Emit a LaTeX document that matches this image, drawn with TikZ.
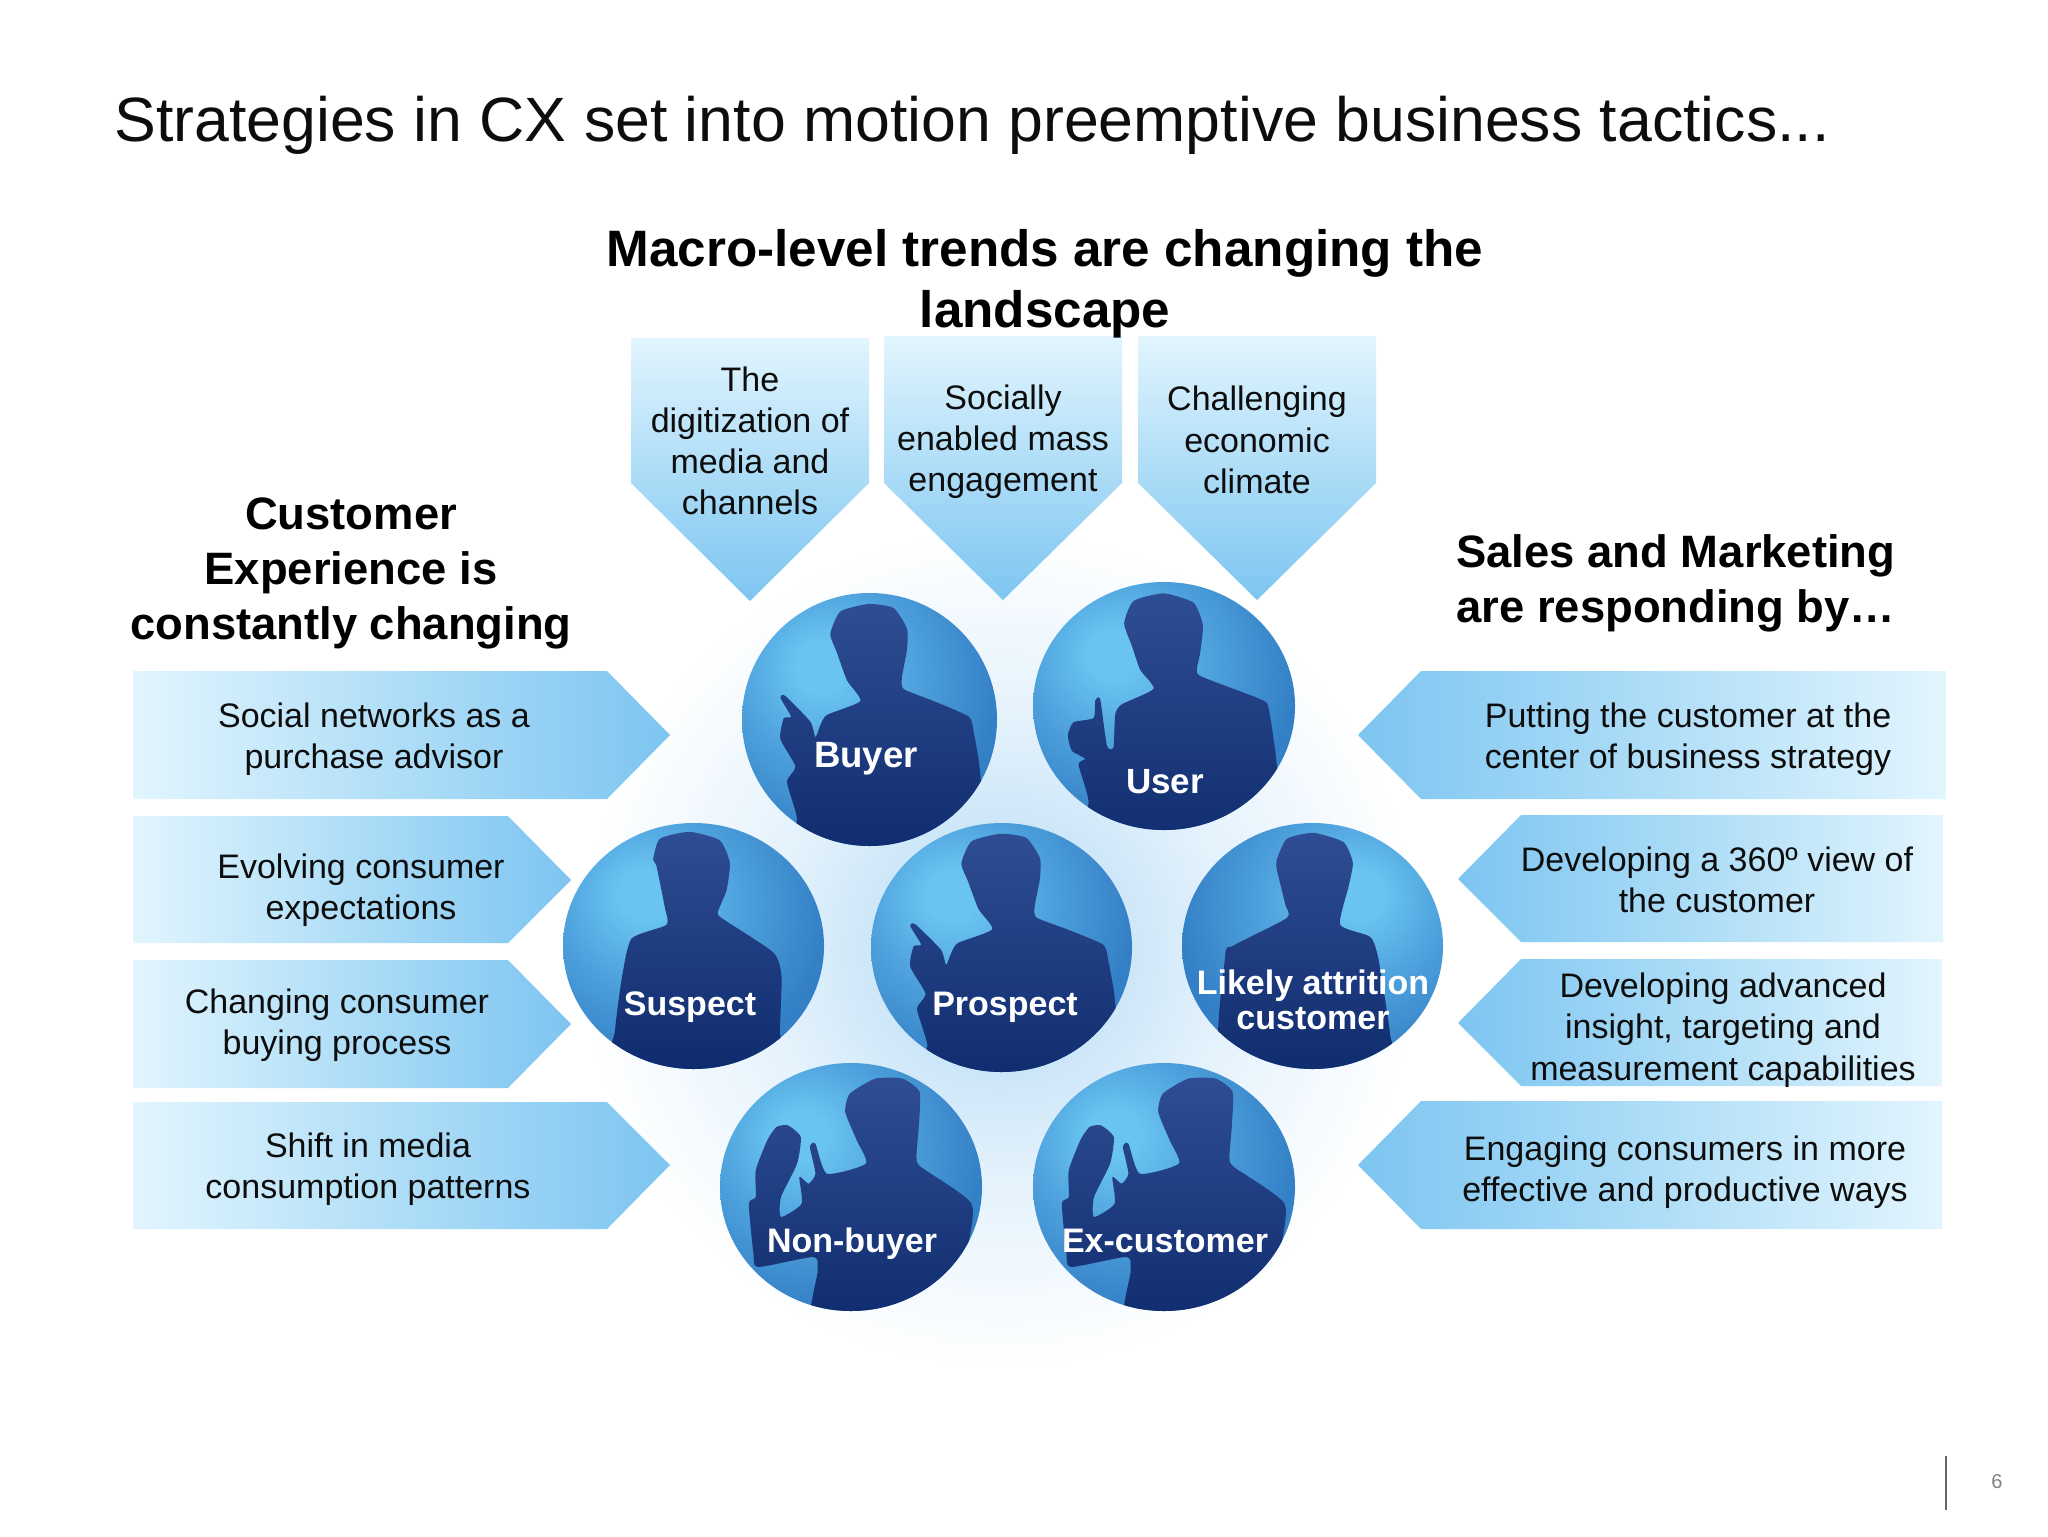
\documentclass[tikz,border=0pt]{standalone}
\usepackage{fontspec}
\setmainfont{Liberation Sans}
\definecolor{arrowblue}{HTML}{7DC5F1}
\definecolor{arrowpale}{HTML}{E2F5FE}
\definecolor{arrowmid}{HTML}{AEDDF7}
\definecolor{spot}{HTML}{69C4F1}
\definecolor{midball}{HTML}{4FA2DD}
\definecolor{edgeball}{HTML}{3480C6}
\definecolor{figtop}{HTML}{2F4D94}
\definecolor{figbot}{HTML}{0D2A6B}
\definecolor{glowa}{HTML}{C8E4F8}
\definecolor{glowb}{HTML}{E4F2FC}
\pgfdeclareradialshading{ballL}{\pgfpoint{-10bp}{11bp}}{color(0bp)=(spot); color(5bp)=(spot); color(17bp)=(midball); color(32bp)=(edgeball); color(100bp)=(edgeball)}
\pgfdeclareradialshading{ballR}{\pgfpoint{9bp}{11bp}}{color(0bp)=(spot); color(5bp)=(spot); color(17bp)=(midball); color(32bp)=(edgeball); color(100bp)=(edgeball)}
\pgfdeclareradialshading{glowshade}{\pgfpointorigin}{color(0bp)=(glowa); color(6bp)=(glowa); color(13bp)=(glowb); color(24bp)=(white); color(100bp)=(white)}
\tikzset{
  x=0.5pt,y=-0.5pt,
  bodytext/.style={align=center,inner sep=0pt,font=\fontsize{17}{20.6}\selectfont,text=black!95},
  headtext/.style={align=center,inner sep=0pt,font=\fontsize{22.7}{27.5}\selectfont\bfseries},
  balltext/.style={align=center,inner sep=0pt,font=\fontsize{17}{17.7}\selectfont\bfseries,text=white},
  rarrow/.style={left color=arrowpale,right color=arrowblue,middle color=arrowmid},
  larrow/.style={left color=arrowblue,right color=arrowpale,middle color=arrowmid},
  darrow/.style={top color=arrowpale,bottom color=arrowblue,middle color=arrowmid},
  fig/.style={top color=figtop,bottom color=figbot,draw=none},
}
\newcommand{\pointerfig}{plot[smooth cycle,tension=.35] coordinates {(870,215)(900,150)(985,128)(1060,140)(1100,200)(1100,260)(1085,340)(1090,375)(1180,410)(1285,455)(1300,500)(1320,625)(1320,880)(770,880)(770,750)(740,645)(765,600)(720,520)(730,460)(752,455)(720,400)(735,395)(810,470)(825,515)(840,480)(860,450)(960,410)(920,350)(890,270)}}
\newcommand{\thumbfig}{plot[smooth cycle,tension=.35] coordinates {(372,185)(400,120)(490,98)(580,125)(608,190)(600,270)(590,320)(605,340)(780,405)(805,430)(830,600)(840,880)(270,880)(265,700)(235,595)(255,578)(215,555)(203,510)(220,472)(280,460)(285,410)(300,405)(320,540)(340,545)(345,450)(365,420)(460,375)(420,320)(395,250)}}
\newcommand{\suspectfig}{plot[smooth cycle,tension=.35] coordinates {(340,870)(360,810)(450,790)(540,815)(570,880)(560,960)(535,1020)(545,1040)(700,1140)(725,1210)(720,1370)(720,1500)(220,1500)(225,1370)(245,1220)(275,1100)(380,1060)(375,1010)(350,890)}}
\newcommand{\likelyfig}{plot[smooth cycle,tension=.35] coordinates {(830,870)(860,810)(940,793)(1030,820)(1058,880)(1045,950)(1020,1060)(1110,1095)(1135,1160)(1170,1380)(1170,1500)(675,1500)(675,1150)(700,1120)(860,1040)(855,1000)(830,900)}}
\newcommand{\raisedfig}{plot[smooth cycle,tension=.35] coordinates {(535,215)(545,160)(600,115)(660,115)(697,155)(695,260)(690,350)(700,380)(810,490)(800,640)(780,880)(470,880)(475,690)(465,650)(345,680)(335,640)(325,490)(340,470)(340,390)(365,300)(385,260)(410,255)(438,290)(430,370)(395,470)(395,530)(440,490)(435,410)(455,430)(470,400)(458,320)(470,310)(495,400)(580,370)(560,300)}}
\newcommand{\person}[9]{%
  \shade[shading=#5] (#1,#2) ellipse [x radius=#3,y radius=#4];
  \begin{scope}
    \clip (#1,#2) ellipse [x radius=#3,y radius=#4];
    \begin{scope}[shift={(#1,#2)},xscale=#6,yscale=#7,shift={(-#8,-#9)}]
      \shade[fig] \thefig;
    \end{scope}
  \end{scope}}
\begin{document}
\begin{tikzpicture}
\useasboundingbox[fill=white] (0,0) rectangle (2048,1536);
\shade[shading=glowshade] (1000,950) ellipse [x radius=440,y radius=440];
\shade[darrow] (631,338) -- (869,338) -- (869,483) -- (750,601) -- (631,483) -- cycle;
\shade[darrow] (884,336) -- (1122,336) -- (1122,483) -- (1003,600) -- (884,483) -- cycle;
\shade[darrow] (1138,336) -- (1376,336) -- (1376,483) -- (1257,600) -- (1138,483) -- cycle;
\shade[rarrow] (133,671) -- (607,671) -- (670,735) -- (607,799) -- (133,799) -- cycle;
\shade[rarrow] (133,816) -- (508,816) -- (571,880) -- (508,943) -- (133,943) -- cycle;
\shade[rarrow] (133,960) -- (508,960) -- (571,1024) -- (508,1088) -- (133,1088) -- cycle;
\shade[rarrow] (133,1102) -- (607,1102) -- (670,1165) -- (607,1229) -- (133,1229) -- cycle;
\shade[larrow] (1946,671) -- (1421,671) -- (1358,735) -- (1421,799) -- (1946,799) -- cycle;
\shade[larrow] (1943,815) -- (1521,815) -- (1458,879) -- (1521,942) -- (1943,942) -- cycle;
\shade[larrow] (1942,959) -- (1521,959) -- (1458,1023) -- (1521,1086) -- (1942,1086) -- cycle;
\shade[larrow] (1942,1101) -- (1421,1101) -- (1358,1165) -- (1421,1229) -- (1942,1229) -- cycle;
\let\thefig\pointerfig
\person{869.5}{719.5}{127.5}{126.5}{ballL}{0.3333}{0.3444}{987.5}{463.5}
\person{1001.5}{947.5}{130.5}{124.5}{ballL}{0.3413}{0.339}{987.5}{463.5}
\let\thefig\thumbfig
\person{1164}{706}{131}{124}{ballL}{0.3333}{0.3444}{491.5}{425}
\let\thefig\suspectfig
\person{693.5}{946}{130.5}{123}{ballL}{0.3333}{0.3444}{461}{1121.5}
\let\thefig\likelyfig
\person{1312.5}{946}{130.5}{123}{ballR}{0.3333}{0.3444}{937}{1121.5}
\let\thefig\raisedfig
\person{851}{1187}{131}{124}{ballL}{0.4591}{0.3333}{547.5}{440}
\person{1164}{1187}{131}{124}{ballL}{0.4591}{0.3333}{547.5}{440}
\coordinate (ruletop) at (1946,1456);
\coordinate (rulebot) at (1946,1510);
\draw[black!60,line width=0.6pt] (ruletop) -- (rulebot);
\node[inner sep=0pt,text=black!50,font=\fontsize{10}{12}\selectfont] (pagenum) at (1997,1482) {6};
\node[anchor=base west,inner sep=0pt,font=\fontsize{31.3}{36}\selectfont,text=black!95] (title) at (114,141) {Strategies in CX set into motion preemptive business tactics...};
\node[align=center,inner sep=0pt,font=\fontsize{25.6}{30.5}\selectfont\bfseries] (macro) at (1045,284) {Macro-level trends are changing the\\landscape};
\node[headtext] (cxhead) at (351,573) {Customer\\Experience is\\constantly changing};
\node[headtext,align=left,anchor=west] (smhead) at (1456,583) {Sales and Marketing\\are responding by…};
\node[bodytext] (t1) at (750,441) {The\\digitization of\\media and\\channels};
\node[bodytext] (t2) at (1003,442) {Socially\\enabled mass\\engagement};
\node[bodytext] (t3) at (1257,440) {Challenging\\economic\\climate};
\node[bodytext] (l1) at (374,739) {Social networks as a\\purchase advisor};
\node[bodytext] (l2) at (361,890) {Evolving consumer\\expectations};
\node[bodytext] (l3) at (337,1025) {Changing consumer\\buying process};
\node[bodytext] (l4) at (368,1169) {Shift in media\\consumption patterns};
\node[bodytext] (r1) at (1688,739) {Putting the customer at the\\center of business strategy};
\node[bodytext] (r2) at (1717,880) {Developing a 360º view of\\the customer};
\node[bodytext] (r3) at (1723,1030) {Developing advanced\\insight, targeting and\\measurement capabilities};
\node[bodytext] (r4) at (1685,1172) {Engaging consumers in more\\effective and productive ways};
\node[balltext,font=\fontsize{18.3}{20}\selectfont\bfseries] (buyer) at (866,759) {Buyer};
\node[balltext,font=\fontsize{17.5}{20}\selectfont\bfseries] (user) at (1165,782) {User};
\node[balltext] (suspect) at (690,1007) {Suspect};
\node[balltext] (prospect) at (1005,1007) {Prospect};
\node[balltext] (likely) at (1313,1000) {Likely attrition\\customer};
\node[balltext] (nonbuyer) at (852,1244) {Non-buyer};
\node[balltext] (excust) at (1165,1241) {Ex-customer};
\end{tikzpicture}
\end{document}
